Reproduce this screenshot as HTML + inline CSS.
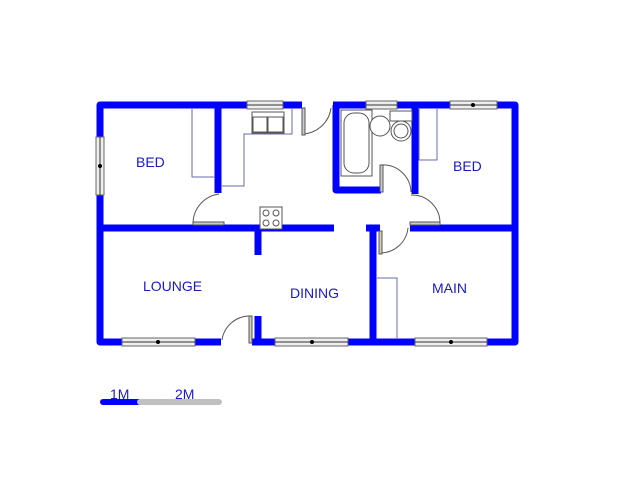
<!DOCTYPE html>
<html><head><meta charset="utf-8"><style>
html,body{margin:0;padding:0;background:#fff;}
svg{display:block}
text{font-family:"Liberation Sans",sans-serif;fill:#1a1ac8;font-size:14px}
</style></head><body>
<svg width="640" height="480" viewBox="0 0 640 480" xmlns="http://www.w3.org/2000/svg">
<g stroke="#0000ff" stroke-width="7" fill="none" stroke-linejoin="round" stroke-linecap="butt">
  <!-- outer -->
  <path d="M302,105 L100,105 L100,342 L221,342"/>
  <path d="M252,342 L515,342 L515,105 L333,105"/>
  <!-- bathroom -->
  <path d="M336,105 L336,190 L381,190"/>
  <path d="M415,105 L415,194"/>
  <!-- bed1 divider -->
  <path d="M218,105 L218,193"/>
  <!-- middle walls -->
  <path d="M100,228 L334,228"/>
  <path d="M366,228 L380,228"/>
  <path d="M410,228 L515,228"/>
  <path d="M373,228 L373,342"/>
  <path d="M258,228 L258,255"/>
  <path d="M258,316 L258,342"/>
</g>
<!-- windows -->
<g fill="#eee" stroke="#666" stroke-width="1">
  <rect x="96" y="137" width="8" height="58"/>
  <rect x="247" y="101" width="36" height="8"/>
  <rect x="366" y="101" width="31" height="8"/>
  <rect x="450" y="101" width="47" height="8"/>
  <rect x="122" y="338" width="73" height="8"/>
  <rect x="275" y="338" width="73" height="8"/>
  <rect x="415" y="338" width="72" height="8"/>
</g>
<g stroke="#333" stroke-width="1">
  <line x1="100" y1="137" x2="100" y2="195"/>
  <line x1="247" y1="105" x2="283" y2="105"/>
  <line x1="366" y1="105" x2="397" y2="105"/>
  <line x1="450" y1="105" x2="497" y2="105"/>
  <line x1="122" y1="342" x2="195" y2="342"/>
  <line x1="275" y1="342" x2="348" y2="342"/>
  <line x1="415" y1="342" x2="487" y2="342"/>
</g>
<g fill="#000"><circle cx="100" cy="166" r="2"/><circle cx="473" cy="105" r="2"/><circle cx="158" cy="342" r="2"/><circle cx="312" cy="342" r="2"/><circle cx="451" cy="342" r="2"/></g>
<!-- fitted cupboards -->
<g fill="none" stroke="#6a6aaa" stroke-width="1">
  <path d="M192,109 L192,177 L215,177"/>
  <path d="M222,186 L244,186 L244,134 L292,134 L292,109"/>
  <path d="M419,109 L419,160 L437,160 L437,109"/>
  <path d="M377,278 L397,278 L397,338"/>
</g>
<!-- doors -->
<g fill="none" stroke="#555" stroke-width="1">
  <path d="M193,223 A30,30 0 0 1 219,194"/>
  <path d="M303,134 A30,30 0 0 0 331,108"/>
  <path d="M381,165 A28,28 0 0 1 411,192"/>
  <path d="M411,195 A28,28 0 0 1 440,223"/>
  <path d="M380,253 A28,28 0 0 0 408,228"/>
  <path d="M222,340 A28,28 0 0 1 250,316"/>
</g>
<g fill="#ccc" stroke="#555" stroke-width="1">
  <rect x="193" y="222" width="31" height="3"/>
  <rect x="302" y="108" width="3" height="27"/>
  <rect x="380" y="165" width="3" height="27"/>
  <rect x="410" y="222" width="30" height="3"/>
  <rect x="379" y="231" width="3" height="23"/>
  <rect x="249" y="316" width="3" height="27"/>
</g>
<!-- sink -->
<g fill="#fff" stroke="#555" stroke-width="1">
  <rect x="252" y="112" width="32" height="21"/>
  <rect x="253" y="117" width="14" height="15"/>
  <rect x="268" y="117" width="15" height="15"/>
  <rect x="260" y="207" width="22" height="22"/>
  <circle cx="266" cy="213" r="3"/><circle cx="276" cy="213" r="3"/>
  <circle cx="266" cy="223" r="3"/><circle cx="276" cy="223" r="3"/>
  <rect x="341" y="110" width="31" height="66"/>
  <rect x="344" y="113" width="25" height="60" rx="10"/>
  <circle cx="380" cy="126" r="10"/>
  <rect x="390" y="111" width="22" height="10"/>
  <circle cx="401" cy="131" r="10"/>
  <circle cx="401" cy="131" r="7"/>
</g>
<!-- labels -->
<text x="136" y="167">BED</text>
<text x="453" y="171">BED</text>
<text x="143" y="291">LOUNGE</text>
<text x="290" y="298">DINING</text>
<text x="432" y="293">MAIN</text>
<!-- scale -->
<line x1="103" y1="402" x2="140" y2="402" stroke="#0000ff" stroke-width="6" stroke-linecap="round"/>
<line x1="140" y1="402" x2="219" y2="402" stroke="#c0c0c0" stroke-width="6" stroke-linecap="round"/>
<text x="110" y="399">1M</text>
<text x="175" y="399">2M</text>
</svg>
</body></html>
